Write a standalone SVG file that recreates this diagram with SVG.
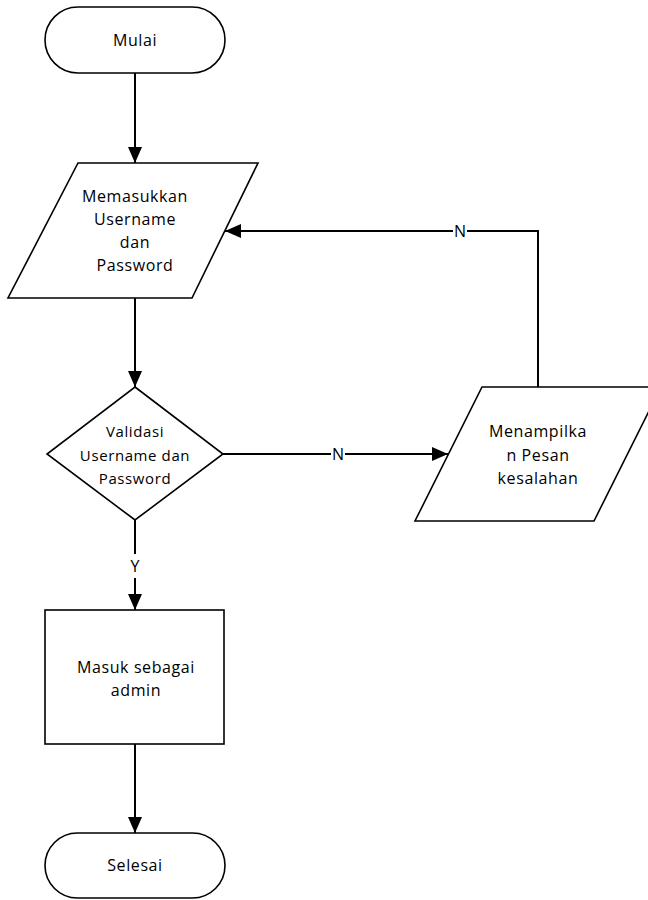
<svg xmlns="http://www.w3.org/2000/svg" width="648" height="900" viewBox="0 0 648 900">
<style>
.shape{fill:#fff;stroke:#000;stroke-width:1.6}
.t{font-family:"Open Sans","Liberation Sans",sans-serif;font-size:16px;letter-spacing:0.6px;fill:#000;text-anchor:middle}
.ts{font-size:15px}
.conn{fill:none;stroke:#000;stroke-width:2}
.lbl{font-family:"Open Sans","Liberation Sans",sans-serif;font-size:16px;fill:#000;text-anchor:middle}
</style>
<defs>
<marker id="arr" markerUnits="userSpaceOnUse" markerWidth="16" markerHeight="14" refX="16" refY="7" orient="auto">
<path d="M0,0 L16,7 L0,14 Z" fill="#000"/>
</marker>
</defs>
<rect width="648" height="900" fill="#fff"/>
<g id="connectors">
<path class="conn" d="M135,73 V163" marker-end="url(#arr)"/>
<path class="conn" d="M135,298 V387" marker-end="url(#arr)"/>
<path class="conn" d="M223,454 H448" marker-end="url(#arr)"/>
<path class="conn" d="M135,520 V610" marker-end="url(#arr)"/>
<path class="conn" d="M135,744 V833" marker-end="url(#arr)"/>
<path class="conn" d="M538,387 V231 H225" marker-end="url(#arr)"/>
<rect x="453" y="221" width="14" height="20" fill="#fff"/>
<text class="lbl" x="460" y="237">N</text>
<rect x="331" y="444" width="14" height="20" fill="#fff"/>
<text class="lbl" x="338" y="460">N</text>
<rect x="127" y="554" width="16" height="24" fill="#fff"/>
<text class="lbl" x="135" y="572">Y</text>
</g>
<g id="mulai">
<rect class="shape" x="45" y="7" width="180" height="66" rx="33" ry="33"/>
<text class="t" x="135" y="46">Mulai</text>
</g>
<g id="input">
<polygon class="shape" points="78,163 258,163 192,298 8,298"/>
<text class="t" x="135" y="202">Memasukkan</text>
<text class="t" x="135" y="225">Username</text>
<text class="t" x="135" y="248">dan</text>
<text class="t" x="135" y="271">Password</text>
</g>
<g id="validasi">
<polygon class="shape" points="135,387 223,454 135,520 47,454"/>
<text class="t ts" x="135" y="437">Validasi</text>
<text class="t ts" x="135" y="461">Username dan</text>
<text class="t ts" x="135" y="484">Password</text>
</g>
<g id="pesan">
<polygon class="shape" points="482,387 661,387 594,521 415,521"/>
<text class="t" x="538" y="437">Menampilka</text>
<text class="t" x="538" y="461">n Pesan</text>
<text class="t" x="538" y="484">kesalahan</text>
</g>
<g id="admin">
<rect class="shape" x="45" y="610" width="179" height="134"/>
<text class="t" x="136" y="673">Masuk sebagai</text>
<text class="t" x="136" y="696">admin</text>
</g>
<g id="selesai">
<rect class="shape" x="45" y="833" width="180" height="65" rx="32.5" ry="32.5"/>
<text class="t" x="135" y="871">Selesai</text>
</g>
</svg>
